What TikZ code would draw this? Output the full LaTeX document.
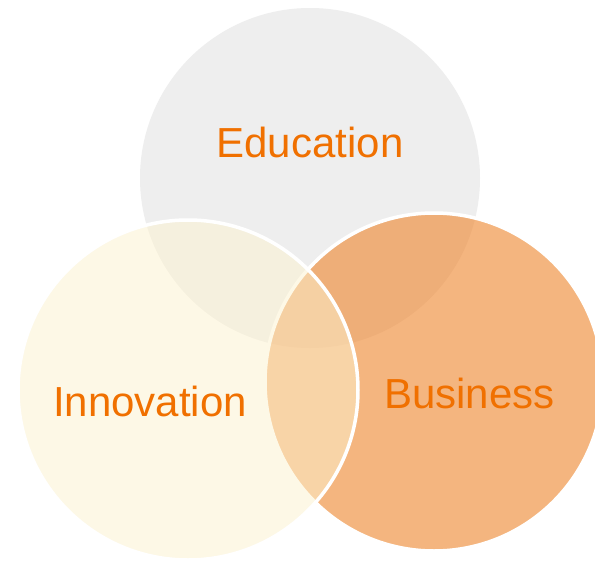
\documentclass[tikz,border=0pt]{standalone}
\usepackage{fontspec}
\setmainfont{Liberation Sans}
\definecolor{edugray}{HTML}{EEEEEE}
\definecolor{busorange}{HTML}{EE842A}
\definecolor{innocream}{HTML}{FDF3CF}
\definecolor{labelorange}{HTML}{F07000}
\begin{document}
\begin{tikzpicture}[x=1pt,y=-1pt,
  lbl/.style={anchor=base,text=labelorange,font=\fontsize{42}{50}\selectfont,inner sep=0pt},
  ring/.style={draw=white,line width=3.5pt}]
\clip (0,0) rectangle (595,562);
\fill[white] (0,0) rectangle (595,562);
\fill[edugray] (310,178) circle[radius=170];
\path[ring,fill=busorange,fill opacity=0.6] (434,382) circle[radius=169];
\path[ring,fill=innocream,fill opacity=0.5] (188,390) circle[radius=170];
\node[lbl] (edu) at (310,157) {Education};
\node[lbl] (inno) at (150,416) {Innovation};
\node[lbl] (bus) at (469.5,408) {Business};
\end{tikzpicture}
\end{document}
